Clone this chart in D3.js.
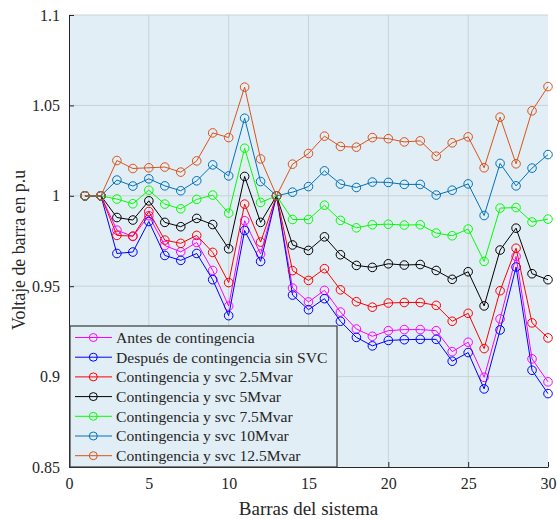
<!DOCTYPE html>
<html lang="es">
<head>
<meta charset="UTF-8" />
<title>Voltaje de barra</title>
<script src="https://d3js.org/d3.v7.min.js"></script>
<style>
  body { margin: 0; background: #fff; }
  svg text { font-family: "Liberation Serif", "Times New Roman", serif; fill: #262626; }
  .grid line { stroke: #c9d2d6; stroke-width: 1; }
  .axis path, .axis line { stroke: #262626; }
</style>
</head>
<body>
<svg width="557" height="519"></svg>
<script>
const width = 557, height = 519;
const margin = { left: 69, right: 9, top: 15, bottom: 52 };

// barras 1..30
const barras = d3.range(1, 31);

const antes = [1, 1, 0.981, 0.9775, 0.989, 0.9725, 0.969, 0.9742, 0.9587, 0.939,
  0.9862, 0.9678, 1, 0.949, 0.9413, 0.9477, 0.9357, 0.9263, 0.9223, 0.9254,
  0.926, 0.926, 0.9254, 0.9138, 0.919, 0.8996, 0.9319, 0.9665, 0.9098, 0.8971];
const despues = [1, 1, 0.9681, 0.9689, 0.9858, 0.967, 0.9643, 0.9681, 0.9536, 0.9337,
  0.9808, 0.9637, 1, 0.9451, 0.937, 0.9431, 0.9306, 0.9217, 0.917, 0.92,
  0.9204, 0.9206, 0.9206, 0.9085, 0.9133, 0.8932, 0.9258, 0.9606, 0.9035, 0.8906];
const svc25 = [1, 1, 0.9781, 0.9777, 0.9913, 0.9755, 0.9737, 0.9781, 0.9687, 0.952,
  0.9954, 0.9744, 1, 0.9586, 0.9532, 0.9597, 0.948, 0.9414, 0.9384, 0.9407,
  0.941, 0.941, 0.9394, 0.9306, 0.935, 0.9155, 0.9475, 0.971, 0.9297, 0.9214];
const svc5 = [1, 1, 0.988, 0.9866, 0.9972, 0.9853, 0.9829, 0.9875, 0.9841, 0.9707,
  1.0107, 0.9853, 1, 0.9728, 0.9698, 0.9773, 0.9674, 0.9615, 0.9604, 0.9624,
  0.9617, 0.962, 0.9587, 0.9538, 0.958, 0.9391, 0.97, 0.9821, 0.9569, 0.9536];
const svc75 = [1, 1, 0.9982, 0.9956, 1.0031, 0.9954, 0.9928, 0.998, 1.0004, 0.9904,
  1.0263, 0.9963, 1, 0.9869, 0.9869, 0.9948, 0.9864, 0.9823, 0.984, 0.9843,
  0.9838, 0.984, 0.9794, 0.9779, 0.9816, 0.9637, 0.9932, 0.9935, 0.9855, 0.9871];
const svc10 = [1, 1, 1.0087, 1.0054, 1.0094, 1.0055, 1.0028, 1.0083, 1.0171, 1.011,
  1.0429, 1.0079, 1, 1.002, 1.0051, 1.0138, 1.0065, 1.0046, 1.0076, 1.0074,
  1.0063, 1.0063, 1.0004, 1.0031, 1.0066, 0.9891, 1.0179, 1.0055, 1.0153, 1.0228];
const svc125 = [1, 1, 1.0195, 1.0151, 1.0155, 1.0159, 1.0131, 1.0193, 1.0348, 1.0322,
  1.0601, 1.0204, 1, 1.0175, 1.0234, 1.033, 1.0273, 1.0269, 1.0322, 1.0316,
  1.0298, 1.0304, 1.0219, 1.0293, 1.0326, 1.0155, 1.0435, 1.0177, 1.047, 1.0604];

const nombres = ["Antes de contingencia", "Después de contingencia sin SVC",
  "Contingencia y svc 2.5Mvar", "Contingencia y svc 5Mvar",
  "Contingencia y svc 7.5Mvar", "Contingencia y svc 10Mvar",
  "Contingencia y svc 12.5Mvar"];
const colores = ["#ff00ff", "#0000ff", "#ff0000", "#000000", "#00ff00", "#0072bd", "#d95319"];
const valores = [antes, despues, svc25, svc5, svc75, svc10, svc125];

const xTicks = [0, 5, 10, 15, 20, 25, 30];
const yTicks = [0.85, 0.9, 0.95, 1, 1.05, 1.1];

const series = nombres.map((n, i) => ({ nombre: n, color: colores[i], vals: valores[i] }));

const x = d3.scaleLinear().domain([0, 30]).range([margin.left, width - margin.right]);
const y = d3.scaleLinear().domain([0.85, 1.1]).range([height - margin.bottom, margin.top]);

const svg = d3.select("svg");

// fondo del área de trazado
svg.append("rect")
  .attr("x", x(0)).attr("y", y(1.1))
  .attr("width", x(30) - x(0)).attr("height", y(0.85) - y(1.1))
  .attr("fill", "#e2eef5");

// rejilla
const grid = svg.append("g").attr("class", "grid");
grid.selectAll("line.v").data(xTicks.slice(1, -1)).enter().append("line")
  .attr("x1", d => x(d)).attr("x2", d => x(d))
  .attr("y1", y(0.85)).attr("y2", y(1.1));
grid.selectAll("line.h").data(yTicks.slice(1)).enter().append("line")
  .attr("y1", d => y(d)).attr("y2", d => y(d))
  .attr("x1", x(0)).attr("x2", x(30));

// ejes con marcas hacia dentro
const fmt = d => String(+d.toFixed(2));
const serif = "'Liberation Serif', 'Times New Roman', serif";
svg.append("g").attr("class", "axis")
  .attr("transform", `translate(0,${y(0.85)})`)
  .call(d3.axisBottom(x).tickValues(xTicks).tickFormat(d3.format("d"))
    .tickSizeInner(-5).tickSizeOuter(0).tickPadding(11))
  .call(g => g.attr("font-family", null))
  .call(g => g.selectAll("text").style("font-size", "16px").style("font-family", serif));
svg.append("g").attr("class", "axis")
  .attr("transform", `translate(${x(0)},0)`)
  .call(d3.axisLeft(y).tickValues(yTicks).tickFormat(fmt)
    .tickSizeInner(-5).tickSizeOuter(0).tickPadding(9))
  .call(g => g.attr("font-family", null))
  .call(g => g.selectAll("text").style("font-size", "16px").style("font-family", serif));

// títulos de ejes
svg.append("text")
  .attr("x", (x(0) + x(30)) / 2).attr("y", 515)
  .attr("text-anchor", "middle").style("font-size", "19px")
  .text("Barras del sistema");
svg.append("text")
  .attr("transform", "translate(25,250) rotate(-90)")
  .attr("text-anchor", "middle").style("font-size", "17.8px")
  .text("Voltaje de barra en p.u");

// líneas y marcadores
const line = d3.line().x((d, i) => x(barras[i])).y(d => y(d));
const capas = svg.append("g").selectAll("g").data(series).enter().append("g");
capas.append("path")
  .attr("d", d => line(d.vals))
  .attr("fill", "none").attr("stroke", d => d.color).attr("stroke-width", 1);
capas.selectAll("circle").data(d => d.vals.map((v, i) => ({ v, i, c: d.color }))).enter()
  .append("circle")
  .attr("cx", d => x(barras[d.i])).attr("cy", d => y(d.v)).attr("r", 4.3)
  .attr("fill", "none").attr("stroke", d => d.c).attr("stroke-width", 1);

// leyenda
const lg = svg.append("g").attr("transform", "translate(70,326)");
lg.append("rect").attr("width", 267).attr("height", y(0.85) - 326)
  .attr("fill", "#e2eef5").attr("stroke", "#3a3a3a").attr("stroke-width", 1.2);
const item = lg.selectAll("g.item").data(series).enter().append("g")
  .attr("transform", (d, i) => `translate(0,${11.5 + i * 19.7})`);
item.append("line").attr("x1", 5).attr("x2", 42)
  .attr("stroke", d => d.color).attr("stroke-width", 1);
item.append("circle").attr("cx", 23.3).attr("r", 4)
  .attr("fill", "none").attr("stroke", d => d.color);
item.append("text").attr("x", 46).attr("dy", "0.35em")
  .style("font-size", "15.6px").text(d => d.nombre);
</script>
</body>
</html>
